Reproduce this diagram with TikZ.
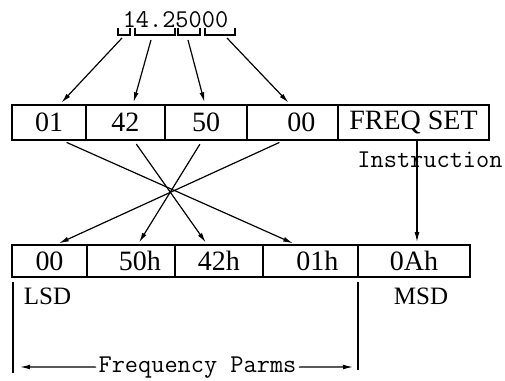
\documentclass[tikz,border=0pt]{standalone}
\usepackage{fontspec}
\setmainfont{Liberation Serif}
\usetikzlibrary{arrows.meta}

\begin{document}
\begin{tikzpicture}[x=0.5pt,y=-0.5pt,
    cell/.style={draw,line width=0.8pt,inner sep=0pt,minimum height=17.5pt,font=\fontsize{14}{16}\selectfont},
    lowcell/.style={cell,minimum height=16pt},
    arr/.style={-{Latex[length=5pt,width=2.4pt]},line width=0.6pt},
    tt/.style={font=\ttfamily\fontsize{12.8}{15}\selectfont,inner sep=0pt}]
    \useasboundingbox (0,0) rectangle (505,381);

    \node[tt,anchor=base] (freq) at (175.5,27.5) {14.25000};
    \draw[line width=0.6pt] (118,28) |- (130,35) -- (130,28);
    \draw[line width=0.6pt] (135,28) |- (175,35) -- (175,28);
    \draw[line width=0.6pt] (178,28) |- (200,35) -- (200,28);
    \draw[line width=0.6pt] (205,28) |- (235,35) -- (235,28);

    \node[cell,minimum width=37pt] (t1) at (49,122.5) {01};
    \node[cell,minimum width=39.5pt] (t2) at (125.5,122.5) {42};
    \node[cell,minimum width=41pt] (t3) at (206,122.5) {50};
    \node[cell,minimum width=45.5pt] (t4) at (292.5,122.5) {\hspace*{9pt}00};
    \node[cell,minimum width=75.5pt] (t5) at (413.5,122.5) {FREQ SET};
    \node[tt,anchor=base] (instr) at (430,167) {Instruction};

    \node[lowcell,minimum width=37.5pt] (b1) at (49.5,261) {00};
    \node[lowcell,minimum width=44pt] (b2) at (131,261) {\hspace*{9pt}50h};
    \node[lowcell,minimum width=44pt] (b3) at (219,261) {42h};
    \node[lowcell,minimum width=47.5pt] (b4) at (310.5,261) {\hspace*{7pt}01h};
    \node[lowcell,minimum width=56pt] (b5) at (414,261) {0Ah};
    \node[font=\fontsize{12.5}{14}\selectfont] (lsd) at (47.5,296) {LSD};
    \node[font=\fontsize{12.5}{14}\selectfont] (msd) at (421,296) {MSD};

    \coordinate (s1) at (122,38);
    \coordinate (s2) at (151,40);
    \coordinate (s3) at (188,40);
    \coordinate (s4) at (227,38);
    \draw[arr,shorten >=1pt] (s1) -- ([xshift=5.5pt]t1.north);
    \draw[arr,shorten >=1pt] (s2) -- ([xshift=3.75pt]t2.north);
    \draw[arr,shorten >=1pt] (s3) -- ([xshift=-0.5pt]t3.north);
    \draw[arr,shorten >=1pt] (s4) -- ([xshift=-1.25pt]t4.north);

    \draw[arr,shorten <=2pt,shorten >=1pt] ([xshift=7pt]t1.south) -- ([xshift=-7.75pt]b4.north);
    \draw[arr,shorten <=2pt,shorten >=1pt] ([xshift=4.25pt]t2.south) -- ([xshift=-6pt]b3.north);
    \draw[arr,shorten <=2pt,shorten >=1pt] ([xshift=-2pt]t3.south) -- ([xshift=3.5pt]b2.north);
    \draw[arr,shorten <=2pt,shorten >=1pt] ([xshift=-4.75pt]t4.south) -- ([xshift=3.75pt]b1.north);
    \draw[arr,shorten >=1pt] ([xshift=1.75pt]t5.south) -- ([xshift=1.5pt]b5.north);

    \draw[line width=0.6pt] (13,282) -- (13,373);
    \draw[line width=0.6pt] (358,282) -- (358,370);
    \node[tt,anchor=base,inner xsep=1pt] (parms) at (197.5,372) {Frequency Parms};
    \coordinate (pl) at (20,367);
    \coordinate (pr) at (353,367);
    \draw[arr] (parms.west) -- (pl);
    \draw[arr] (parms.east) -- (pr);
\end{tikzpicture}
\end{document}
